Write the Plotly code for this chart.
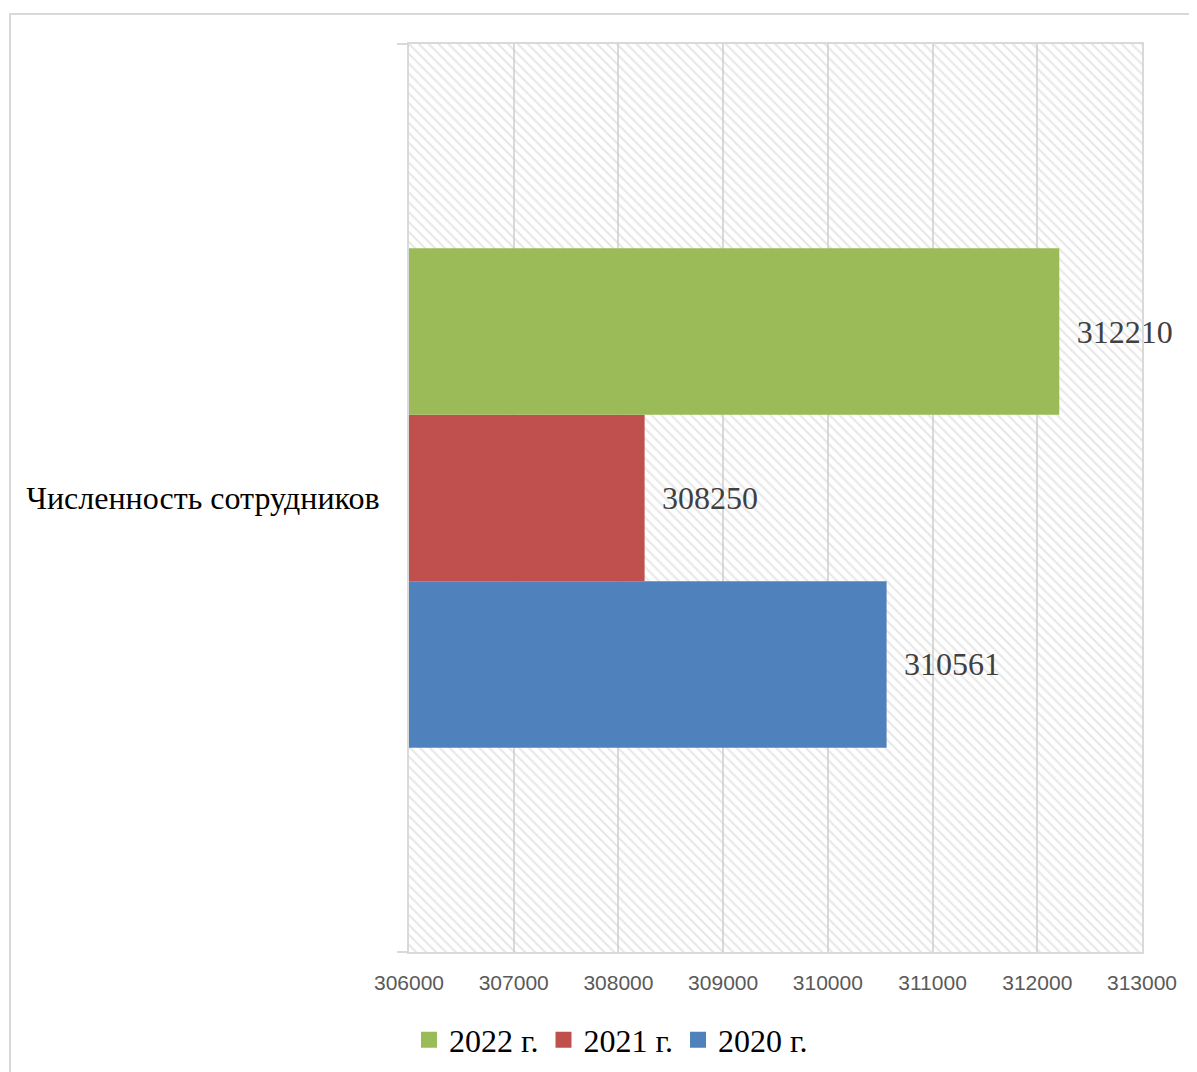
import plotly.graph_objects as go

category = ["Численность сотрудников"]
series_names = ["2020 г.", "2021 г.", "2022 г."]
values_2020 = [310561]
values_2021 = [308250]
values_2022 = [312210]
colors = {"2020 г.": "#4F81BD", "2021 г.": "#C0504D", "2022 г.": "#9BBB59"}
x_ticks = [306000, 307000, 308000, 309000, 310000, 311000, 312000, 313000]

series_values = [values_2020, values_2021, values_2022]

OFF = 8  # page body margin
W, H = 1197 - OFF, 1072 - OFF
L, R, T, B = 409 - OFF, 55, 44 - OFF, 120
pw, ph = W - L - R, H - T - B


def px(xpage):
    return (xpage - OFF - L) / pw


def py(ypage):
    return (T + ph - (ypage - OFF)) / ph


fig = go.Figure()

# hatched plot-area background (decoration) on the base subplot
fig.add_trace(go.Scatter(
    x=[0, 1, 1, 0, 0], y=[0, 0, 1, 1, 0], mode="lines",
    line=dict(width=0), fill="toself", fillcolor="rgba(255,255,255,0)",
    fillpattern=dict(shape="\\", fgcolor="#d0d0d0", bgcolor="rgba(255,255,255,0)",
                     size=7, solidity=0.3),
    hoverinfo="skip", showlegend=False, xaxis="x", yaxis="y"))

for name, vals in zip(series_names, series_values):
    fig.add_trace(go.Bar(
        y=category, x=vals, name=name, orientation="h",
        marker=dict(color=colors[name], line=dict(width=0)),
        text=vals, texttemplate=" \u2009%{text}", textposition="outside",
        cliponaxis=False, constraintext="none", showlegend=False,
        textfont=dict(family="Liberation Serif", size=32, color="#404040"),
        xaxis="x2", yaxis="y2"))

# legend entries with square swatches
for name in series_names:
    fig.add_trace(go.Scatter(
        x=[None], y=[None], mode="markers", name=name,
        marker=dict(symbol="square", size=16, color=colors[name]),
        xaxis="x2", yaxis="y2", hoverinfo="skip"))

fig.update_layout(
    width=W, height=H,
    margin=dict(l=L, r=R, t=T, b=B, autoexpand=False),
    paper_bgcolor="white", plot_bgcolor="white",
    barmode="group", bargap=0.45, bargroupgap=0,
    xaxis=dict(range=[0, 1], visible=False, fixedrange=True),
    yaxis=dict(range=[0, 1], visible=False, fixedrange=True),
    xaxis2=dict(overlaying="x", side="bottom", range=[x_ticks[0], x_ticks[-1]],
                tickvals=x_ticks, ticktext=[str(v) for v in x_ticks],
                showgrid=True, gridcolor="#d9d9d9", gridwidth=2,
                showline=True, linecolor="#d9d9d9", linewidth=2, mirror=True,
                ticks="", ticklabelstandoff=11, zeroline=False,
                tickfont=dict(family="Liberation Sans", size=21, color="#595959")),
    yaxis2=dict(overlaying="y", side="left", type="category",
                tickson="boundaries", ticks="outside", ticklen=10,
                tickcolor="#d9d9d9", tickwidth=2,
                showline=True, linecolor="#d9d9d9", linewidth=2, mirror=True,
                showgrid=False, ticklabelstandoff=21,
                tickfont=dict(family="Liberation Serif", size=32, color="black")),
    legend=dict(orientation="h", traceorder="reversed",
                x=px(611), xanchor="center",
                yref="container", y=(H - (1040 - OFF)) / H, yanchor="middle",
                font=dict(family="Liberation Serif", size=32, color="black"),
                bgcolor="rgba(0,0,0,0)"),
    shapes=[dict(type="rect", xref="paper", yref="paper",
                 x0=px(10), x1=px(1220),
                 y0=py(1090), y1=py(14),
                 line=dict(color="#d9d9d9", width=2), layer="below")],
)

fig.write_html("out.html")
